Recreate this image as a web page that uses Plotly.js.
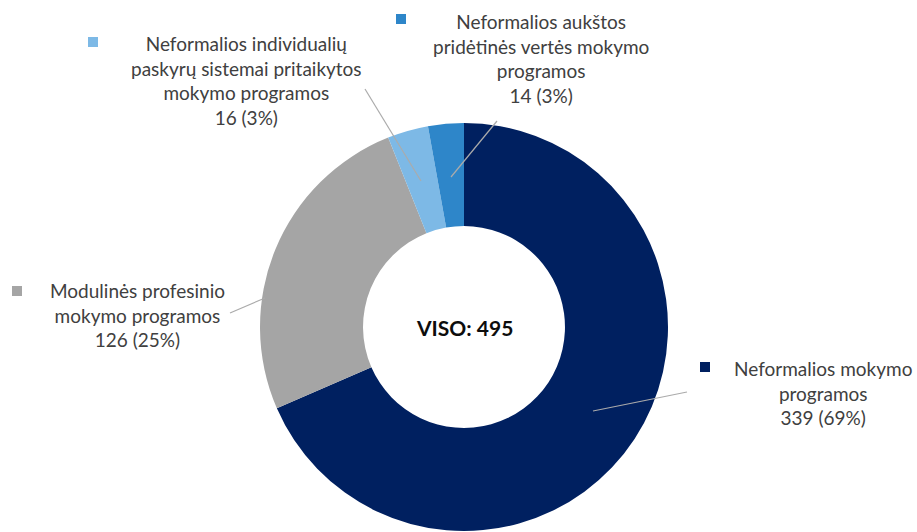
<!DOCTYPE html>
<html><head><meta charset="utf-8">
<script src="https://cdn.plot.ly/plotly-3.0.1.min.js"></script>
<style>html,body{margin:0;padding:0;background:#fff}#c{width:917px;height:532px}</style>
</head><body><div id="c"></div>
<script>
const labelLines = [
  "Neformalios mokymo<br>programos",
  "Modulinės profesinio<br>mokymo programos",
  "Neformalios individualių<br>paskyrų sistemai pritaikytos<br>mokymo programos",
  "Neformalios aukštos<br>pridėtinės vertės mokymo<br>programos"
];
const categories = ["Neformalios mokymo programos","Modulinės profesinio mokymo programos","Neformalios individualių paskyrų sistemai pritaikytos mokymo programos","Neformalios aukštos pridėtinės vertės mokymo programos"];
const values = [339, 126, 16, 14];
const colors = ["#002060", "#A5A5A5", "#7DB9E6", "#2E86C9"];
const totalLabel = "VISO";

const W = 917, H = 532;
const px = x => x / W, py = y => 1 - y / H;
const total = values.reduce((a,b)=>a+b,0);

// percentages rounded so they sum to 100 (largest remainder)
const raw = values.map(v => v / total * 100);
const pcts = raw.map(Math.floor);
let left = 100 - pcts.reduce((a,b)=>a+b,0);
raw.map((r,i)=>[r-Math.floor(r), i]).sort((a,b)=>b[0]-a[0]).slice(0,left).forEach(([_,i])=>pcts[i]++);

// label centre positions (px) and marker/leader positions
const labPos = [[823, 393], [137, 315], [247, 80.5], [541, 58]];
const markPos = [[705, 367], [17, 291], [93, 42], [401, 19]];
const leaders = [[[593,411],[687,392]], [[230,313],[265,298]], [[365,89],[421,181]], [[451,177],[497,121]]];

const font = "Lato, 'Open Sans', sans-serif";
const annotations = [];
const shapes = [];
values.forEach((v,i)=>{
  annotations.push({xref:'paper',yref:'paper',x:px(labPos[i][0]),y:py(labPos[i][1]),xanchor:'center',yanchor:'middle',
    showarrow:false,align:'center',text:labelLines[i]+"<br>"+v+" ("+pcts[i]+"%)",font:{family:font,size:19,color:'#404040'}});
  shapes.push({type:'rect',xref:'paper',yref:'paper',x0:px(markPos[i][0]-5),x1:px(markPos[i][0]+5),y0:py(markPos[i][1]+5),y1:py(markPos[i][1]-5),
    fillcolor:colors[i],line:{width:0}});
  const l = leaders[i];
  shapes.push({type:'line',xref:'paper',yref:'paper',x0:px(l[0][0]),y0:py(l[0][1]),x1:px(l[1][0]),y1:py(l[1][1]),line:{color:'#ABABAB',width:1.2}});
});
annotations.push({xref:'paper',yref:'paper',x:px(464),y:py(327),xanchor:'center',yanchor:'middle',showarrow:false,
  text:"<b>"+totalLabel+": "+total+"</b>",font:{family:font,size:21,color:'#0d0d0d'}});

const cx = 464, cy = 327, R = 204;
Plotly.newPlot('c', [{
  type:'pie', labels:categories, values:values, hole:0.495, sort:false, direction:'clockwise', rotation:0,
  marker:{colors:colors, line:{width:0}}, textinfo:'none', hoverinfo:'none',
  domain:{x:[px(cx-R), px(cx+R)], y:[py(cy+R), py(cy-R)]}
}], {
  width:W, height:H, margin:{l:0,r:0,t:0,b:0}, showlegend:false,
  paper_bgcolor:'#fff', plot_bgcolor:'#fff',
  annotations:annotations, shapes:shapes
}, {displayModeBar:false, staticPlot:true});
</script></body></html>
